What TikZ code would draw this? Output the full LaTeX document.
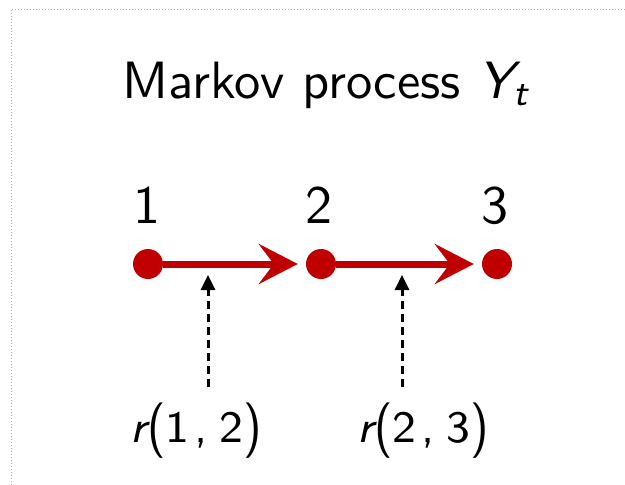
\documentclass[tikz,border=0pt]{standalone}
\usepackage{graphicx}
\usetikzlibrary{arrows.meta}
\definecolor{statered}{RGB}{192,0,0}
% sans text at a given design size, enlarged
\newcommand{\bigsans}[2]{\scalebox{#1}{\fontsize{10}{12}\selectfont\sffamily #2}}
\newcommand{\smallsans}[2]{\scalebox{#1}{\fontsize{8}{10}\selectfont\sffamily #2}}
\newcommand{\slvar}[1]{{\slshape #1}}
% parentheses stretched vertically, stroke kept thin
\newcommand{\tallparen}[1]{\raisebox{-0.4pt}{\scalebox{1}[1.24]{#1}}}
\newcommand{\ratelabel}[2]{\slvar{r}\hspace{0.2pt}\tallparen{(}#1\hspace{0.8pt},\hspace{2.2pt}#2\tallparen{)}}
\tikzset{
  x=1pt, y=-1pt,
  state/.style={circle, fill=statered, minimum size=30pt, inner sep=0pt},
  textnode/.style={anchor=base, inner sep=0pt},
  jump/.style={draw=statered, line width=7pt,
    -{Stealth[length=39pt, width=40pt, inset=15pt, fill=statered]}, shorten >=8pt},
  rate/.style={draw=black, line width=3pt, dash pattern=on 8pt off 5pt,
    -{Triangle[length=15pt, width=14pt]}},
  frameline/.style={draw=gray!60, line width=1pt, dotted}
}
\begin{document}
\begin{tikzpicture}
  \useasboundingbox (0,0) rectangle (625,485);
  % dotted frame edges
  \draw[frameline] (11,485) -- (11,9) -- (625,9);

  % title
  \node[textnode] (title) at (325,98)
    {\bigsans{5.25}{Markov process \slvar{Y}\raisebox{-0.32ex}{\fontsize{7}{8}\selectfont\slvar{t}}}};

  % states of the chain
  \node[state] (s1) at (148,264) {};
  \node[state] (s2) at (321,264) {};
  \node[state] (s3) at (497,264) {};
  \node[textnode] (l1) at (147,223) {\bigsans{5.4}{1}};
  \node[textnode] (l2) at (319,223) {\bigsans{5.4}{2}};
  \node[textnode] (l3) at (495,223) {\bigsans{5.4}{3}};

  % transitions
  \draw[jump] (s1) -- (s2);
  \draw[jump] (s2) -- (s3);

  % transition rates
  \coordinate (a1) at (208,387);
  \coordinate (t1) at (208,275);
  \coordinate (a2) at (402,387);
  \coordinate (t2) at (402,275);
  \draw[rate] (a1) -- (t1);
  \draw[rate] (a2) -- (t2);
  \node[textnode] (r1) at (196,442) {\smallsans{5.6}{\ratelabel{1}{2}}};
  \node[textnode] (r2) at (423,442) {\smallsans{5.6}{\ratelabel{2}{3}}};
\end{tikzpicture}
\end{document}
